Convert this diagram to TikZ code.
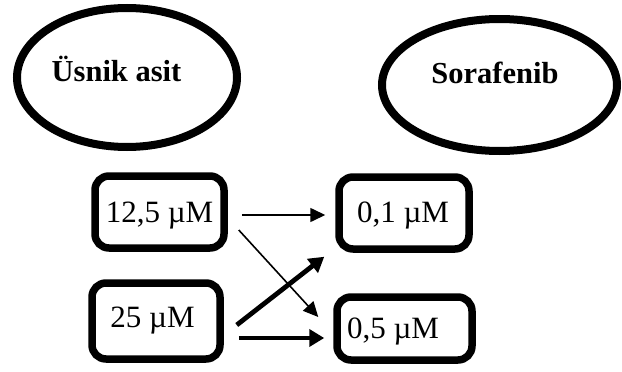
\documentclass[tikz,border=0pt]{standalone}
\usepackage{fontspec}
\setmainfont{Liberation Serif}
\usetikzlibrary{shapes.geometric,arrows.meta,calc}
\begin{document}
\begin{tikzpicture}[x=1pt,y=-1pt,
  oval/.style={draw,ellipse,line width=8pt,inner sep=0pt},
  dosebox/.style={draw,rectangle,rounded corners=14pt,line width=7.5pt,inner sep=0pt},
  lbl/.style={anchor=base,inner sep=0pt,font=\fontsize{31}{31}\selectfont},
  blbl/.style={anchor=base,inner sep=0pt,font=\fontsize{30.5}{31}\selectfont\bfseries},
  thinarr/.style={line width=1.6pt,-{Triangle[length=15pt,width=14pt]}},
  thickarr/.style={line width=4.8pt,-{Triangle[length=15pt,width=17pt]}}]
\useasboundingbox (0,0) rectangle (622,372);
\node[oval,minimum width=220pt,minimum height=139pt] (e1) at (127,77.5) {};
\node[oval,minimum width=235pt,minimum height=132pt] (e2) at (499.5,85) {};
\node[blbl] (tus) at (116.5,81) {Üsnik asit};
\node[blbl] (tso) at (495,83) {Sorafenib};
\node[dosebox,minimum width=129pt,minimum height=72pt] (b1) at (159.5,212) {};
\node[dosebox,minimum width=128pt,minimum height=76pt] (b2) at (156,321) {};
\node[dosebox,minimum width=130pt,minimum height=72pt] (b3) at (404,213) {};
\node[dosebox,minimum width=135pt,minimum height=63pt] (b4) at (404.5,328.5) {};
\node[lbl] (t1) at (159.5,222) {12,5 µM};
\node[lbl] (t2) at (152.5,327) {25 µM};
\node[lbl] (t3) at (403,222) {0,1 µM};
\node[lbl] (t4) at (393,338) {0,5 µM};
\draw[thinarr] ($(b1.east)+(14,3)$) -- ($(b3.west)+(-10,2)$);
\draw[thinarr] ($(b1.east)+(11,18)$) -- ($(b4.west)+(-15,-11.5)$);
\draw[thickarr] ($(b2.east)+(13,4)$) -- ($(b3.south west)+(-11,4)$);
\draw[thickarr] ($(b2.east)+(15,17)$) -- ($(b4.west)+(-9,9.5)$);
\end{tikzpicture}
\end{document}
